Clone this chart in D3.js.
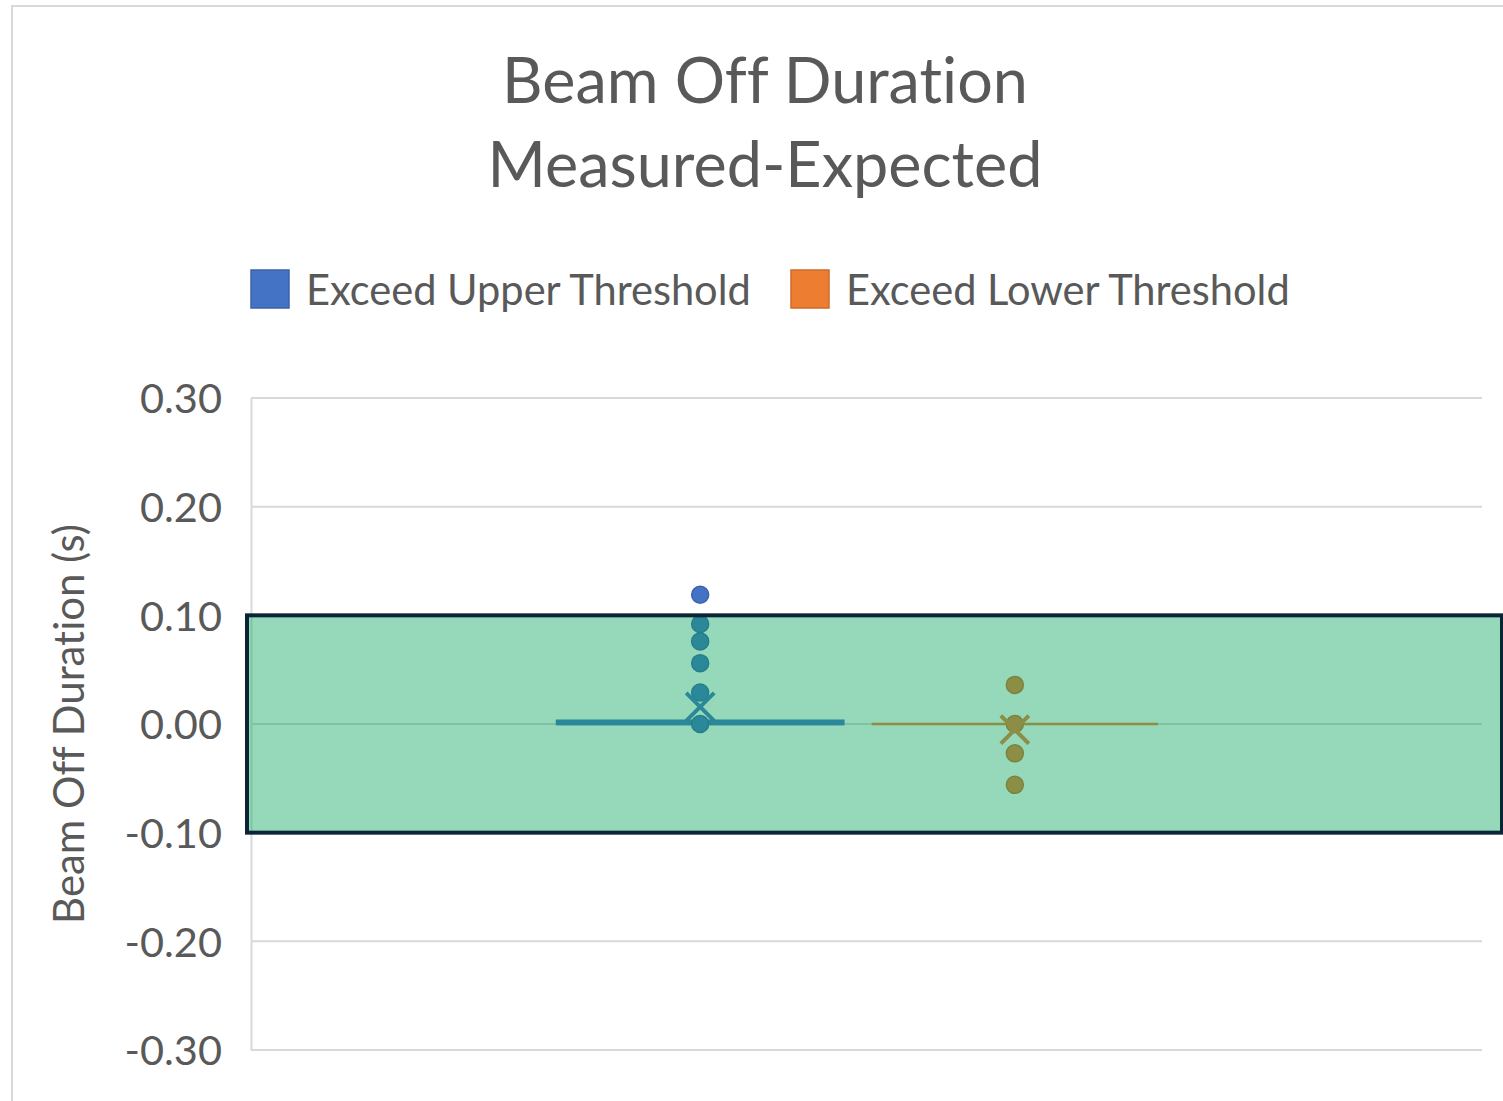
<!DOCTYPE html>
<html>
<head>
<meta charset="utf-8">
<script src="https://cdn.jsdelivr.net/npm/d3@7"></script>
<style>
  html, body { margin: 0; padding: 0; background: #ffffff; }
  svg { display: block; }
  text { font-variant-ligatures: none; font-feature-settings: "liga" 0, "clig" 0; }
</style>
</head>
<body>
<script>
// ---------------- data ----------------
const titleLines = ["Beam Off Duration", "Measured-Expected"];
const yAxisTitle = "Beam Off Duration (s)";
const seriesNames = ["Exceed Upper Threshold", "Exceed Lower Threshold"];
const seriesColors = ["#4472C4", "#ED7D31"];
const upperPoints = [0.119, 0.092, 0.076, 0.056, 0.029, 0.000];
const lowerPoints = [0.036, 0.000, -0.027, -0.056];
const q1Values = [0.000, 0.000];
const medianValues = [0.000, 0.000];
const q3Values = [0.003, 0.000];
const meanValues = [0.0158, -0.0052];
const thresholds = [0.10, -0.10];
const yTicks = [0.30, 0.20, 0.10, 0.00, -0.10, -0.20, -0.30];
const yTickLabels = ["0.30", "0.20", "0.10", "0.00", "-0.10", "-0.20", "-0.30"];

// ---------------- layout ----------------
const W = 1503, H = 1101;
const FONT = "Lato, 'Open Sans', sans-serif";
const plot = { left: 251, right: 1482, top: 398, bottom: 1050 };
const textColor = "#595959";
const gridColor = "#D9D9D9";

const svg = d3.select("body").append("svg").attr("width", W).attr("height", H);

function fitSize(text, target) {
  const t = svg.append("text").attr("font-family", FONT).attr("font-size", 100).text(text);
  const w = t.node().getComputedTextLength();
  t.remove();
  return 100 * target / w;
}
const titleSize = fitSize(titleLines[0], 526);
const legendSize = fitSize(seriesNames[0], 445);
const tickSize = fitSize("0.30", 82);
const axisTitleSize = fitSize(yAxisTitle, 400);

// chart border
svg.append("rect").attr("x", 12).attr("y", 6).attr("width", W + 20).attr("height", H + 20)
  .attr("fill", "#fff").attr("stroke", gridColor).attr("stroke-width", 2);

const y = d3.scaleLinear().domain([-0.3, 0.3]).range([plot.bottom, plot.top]);
const x = d3.scaleBand().domain(seriesNames)
  .range([plot.left + 306, plot.left + 907]).paddingInner(0.09);

// gridlines
svg.append("g").selectAll("line").data(yTicks).join("line")
  .attr("x1", plot.left).attr("x2", plot.right)
  .attr("y1", d => y(d)).attr("y2", d => y(d))
  .attr("stroke", gridColor).attr("stroke-width", 2);

// y axis
const yAxis = d3.axisLeft(y).tickValues(yTicks)
  .tickFormat((d, i) => yTickLabels[i]).tickSize(0).tickSizeOuter(0).tickPadding(29);
const gy = svg.append("g").attr("transform", `translate(${plot.left},0)`).call(yAxis);
gy.select(".domain").attr("stroke", gridColor).attr("stroke-width", 2);
gy.selectAll("text").attr("font-family", FONT).attr("font-size", tickSize)
  .attr("fill", textColor).attr("dy", "0.36em");

// y axis title
svg.append("text")
  .attr("transform", `translate(84,${(plot.top + plot.bottom) / 2}) rotate(-90)`)
  .attr("text-anchor", "middle").attr("font-family", FONT).attr("font-size", axisTitleSize)
  .attr("fill", textColor).text(yAxisTitle);

// boxes
const pointSets = [upperPoints, lowerPoints];
const gBox = svg.append("g");
seriesNames.forEach((s, i) => {
  const col = seriesColors[i];
  const x0 = x(s), bw = x.bandwidth(), cx = x0 + bw / 2;
  gBox.append("rect").attr("x", x0).attr("width", bw)
    .attr("y", y(q3Values[i])).attr("height", Math.max(0, y(q1Values[i]) - y(q3Values[i])))
    .attr("fill", col).attr("stroke", col).attr("stroke-width", 2.5);
  gBox.append("line").attr("x1", x0).attr("x2", x0 + bw)
    .attr("y1", y(medianValues[i])).attr("y2", y(medianValues[i]))
    .attr("stroke", col).attr("stroke-width", 2.5);
  gBox.selectAll(null).data(pointSets[i]).join("circle")
    .attr("cx", cx).attr("cy", d => y(d)).attr("r", 8.5)
    .attr("fill", col).attr("stroke", d3.color(col).darker(0.4)).attr("stroke-width", 1.5);
  const my = y(meanValues[i]), a = 14;
  gBox.append("path")
    .attr("d", `M${cx - a},${my - a}L${cx + a},${my + a}M${cx - a},${my + a}L${cx + a},${my - a}`)
    .attr("stroke", col).attr("stroke-width", 4).attr("fill", "none");
});

// threshold band overlay
svg.append("rect")
  .attr("x", plot.left - 4).attr("width", (plot.right + 20) - (plot.left - 4))
  .attr("y", y(thresholds[0])).attr("height", y(thresholds[1]) - y(thresholds[0]))
  .attr("fill", "rgb(10,165,95)").attr("fill-opacity", 0.43)
  .attr("stroke", "#0B2536").attr("stroke-width", 4);

// title
svg.append("g").selectAll("text").data(titleLines).join("text")
  .attr("x", 765).attr("y", (d, i) => 103 + i * 84)
  .attr("text-anchor", "middle").attr("font-family", FONT).attr("font-size", titleSize)
  .attr("fill", textColor).text(d => d);

// legend
const legendX = [251, 791];
const lg = svg.append("g");
seriesNames.forEach((s, i) => {
  lg.append("rect").attr("x", legendX[i]).attr("y", 270).attr("width", 38).attr("height", 38)
    .attr("fill", seriesColors[i]).attr("stroke", d3.color(seriesColors[i]).darker(0.4)).attr("stroke-width", 1.5);
  lg.append("text").attr("x", legendX[i] + 55).attr("y", 305)
    .attr("font-family", FONT).attr("font-size", legendSize).attr("fill", textColor).text(s);
});
</script>
</body>
</html>
